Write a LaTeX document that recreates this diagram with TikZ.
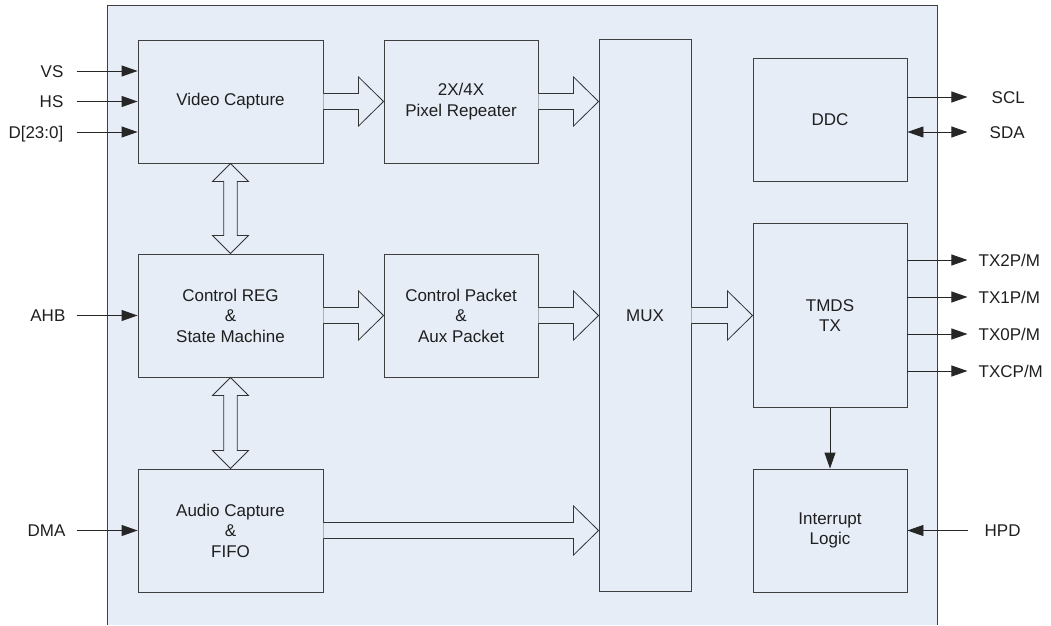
\documentclass[tikz,border=0pt]{standalone}
\usepackage{fontspec}
\setmainfont{Liberation Sans}
\usetikzlibrary{arrows.meta, positioning, calc}
\definecolor{chipfill}{RGB}{230,237,247}
\definecolor{chipline}{RGB}{64,64,64}
\tikzset{
  blk/.style      = {draw=chipline, line width=0.9pt, fill=chipfill, align=center,
                     inner sep=0pt, font=\fontsize{17}{20.5}\selectfont, text=black!88},
  sig/.style      = {-{Triangle[length=16pt,width=11pt]}, line width=0.9pt, color=black!85},
  bisig/.style    = {{Triangle[length=16pt,width=11pt]}-{Triangle[length=16pt,width=11pt]},
                     line width=0.9pt, color=black!85},
  lbl/.style      = {font=\fontsize{17}{20}\selectfont, inner sep=0pt,
                     text height=12.2pt, text depth=0pt, text=black!88},
  fatarrow/.style = {draw=black!80, line width=0.8pt, fill=chipfill, line join=miter},
}

\begin{document}
\begin{tikzpicture}[x=1pt, y=1pt]
\useasboundingbox (0,0) rectangle (1051,625);
% chip outline
\fill[chipfill] (107,0) rectangle (937,620);
\draw[chipline, line width=0.9pt] (107,0) |- (937,620) -- (937,0);

% blocks
\node[blk, minimum width=185pt, minimum height=123pt] (vid)  at (230.5,523.5) {Video Capture};
\node[blk, minimum width=154pt, minimum height=123pt] (pix)  at (461,523.5)   {2X/4X\\Pixel Repeater};
\node[blk, minimum width=185pt, minimum height=123pt] (ctrl) at (230.5,309.5) {Control REG\\\&\\State Machine};
\node[blk, minimum width=154pt, minimum height=123pt] (pkt)  at (461,309.5)   {Control Packet\\\&\\Aux Packet};
\node[blk, minimum width=185pt, minimum height=123pt] (aud)  at (230.5,94.5)  {Audio Capture\\\&\\FIFO};
\node[blk, minimum width=92pt,  minimum height=552pt] (mux)  at (645,309.5)   {MUX};
\node[blk, minimum width=154pt, minimum height=123pt] (ddc)  at (830,505.5)   {DDC};
\node[blk, minimum width=154pt, minimum height=184pt] (tmds) at (830,309.5)   {TMDS\\TX};
\node[blk, minimum width=154pt, minimum height=123pt] (intr) at (830,94.5)    {Interrupt\\Logic};

% wide data paths
\coordinate (pixout) at (pix.east -| mux.west);
\coordinate (pktout) at (pkt.east -| mux.west);
\coordinate (audout) at (aud.east -| mux.west);
\foreach \a/\b in {vid.east/pix.west, pix.east/pixout, ctrl.east/pkt.west,
                   pkt.east/pktout, mux.east/tmds.west, aud.east/audout} {
    \filldraw[fatarrow] ($(\a)+(0,8)$) -- ($(\b)+(-25,8)$) -- ($(\b)+(-25,24.5)$) -- (\b)
        -- ($(\b)+(-25,-24.5)$) -- ($(\b)+(-25,-8)$) -- ($(\a)+(0,-8)$);
}
\foreach \a/\b in {vid.south/ctrl.north, ctrl.south/aud.north} {
    \filldraw[fatarrow] (\a) -- ($(\a)+(18,-18)$) -- ($(\a)+(6.7,-18)$) -- ($(\b)+(6.7,18)$)
        -- ($(\b)+(18,18)$) -- (\b) -- ($(\b)+(-18,18)$) -- ($(\b)+(-6.7,18)$)
        -- ($(\a)+(-6.7,-18)$) -- ($(\a)+(-18,-18)$) -- cycle;
}

% inputs
\foreach \name/\txt/\dy in {vs/VS/30.5, hs/HS/0, dd/{D[23:0]}/-30.5} {
    \node[lbl, anchor=east] (\name) at ([xshift=-74pt, yshift=\dy pt]vid.west) {\txt};
    \draw[sig] ([xshift=13pt]\name.east) -- (\name.east -| vid.west);
}
\node[lbl, anchor=east] (ahb) at ([xshift=-72pt]ctrl.west) {AHB};
\draw[sig] ([xshift=11pt]ahb.east) -- (ctrl.west);
\node[lbl, anchor=east] (dma) at ([xshift=-72pt]aud.west) {DMA};
\draw[sig] ([xshift=11pt]dma.east) -- (aud.west);

% outputs
\node[lbl, anchor=west] (scl) at ([xshift=84pt, yshift=22.5pt]ddc.east) {SCL};
\draw[sig] (scl.west -| ddc.east) -- ([xshift=-24pt]scl.west);
\node[lbl, anchor=west] (sda) at ([xshift=82pt, yshift=-12.5pt]ddc.east) {SDA};
\draw[bisig] (sda.west -| ddc.east) -- ([xshift=-22pt]sda.west);
\foreach \name/\txt/\dy in {txb/{TX2P/M}/55.5, txa/{TX1P/M}/18.5, txz/{TX0P/M}/-18.5, txc/{TXCP/M}/-55.5} {
    \node[lbl, anchor=west] (\name) at ([xshift=71pt, yshift=\dy pt]tmds.east) {\txt};
    \draw[sig] (\name.west -| tmds.east) -- ([xshift=-11pt]\name.west);
}
\node[lbl, anchor=west] (hpd) at ([xshift=77pt]intr.east) {HPD};
\draw[sig] ([xshift=-16pt]hpd.west) -- (intr.east);
\draw[sig] (tmds.south) -- (intr.north);
\end{tikzpicture}
\end{document}
